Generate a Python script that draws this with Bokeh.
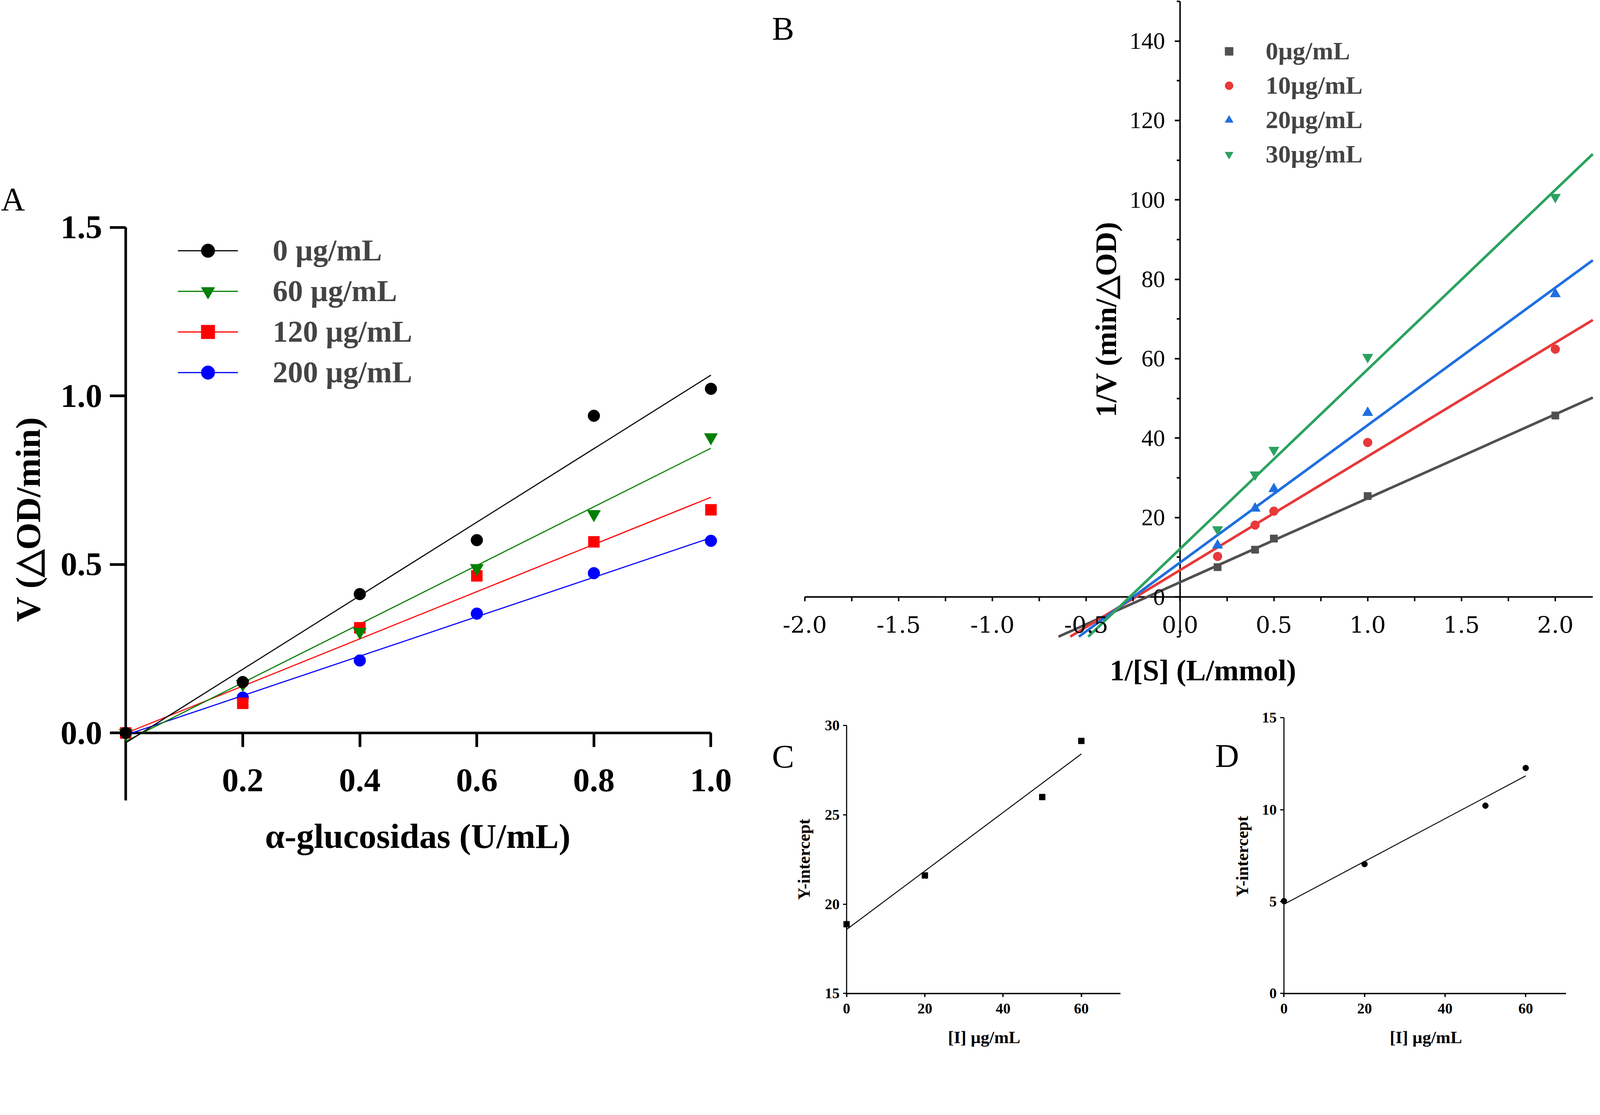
import math
import numpy as np
from bokeh.plotting import figure
from bokeh.models import (Range1d, FixedTicker, NumeralTickFormatter, Arrow,
                          Label, Legend, LegendItem)
from bokeh.layouts import row, column
from bokeh.embed import file_html
from bokeh.resources import INLINE

SERIF = "Liberation Serif"
# the page is photographed scaled: CSS px per reference-picture px
S = 4096 / 4328


def R(v):
    return v * S


def RI(v):
    return int(round(v * S))


def FS(v):
    return f"{v * S:.1f}px"


# ---------------- data ----------------
# Panel A : V vs alpha-glucosidase concentration
a_x = [0.0, 0.2, 0.4, 0.6, 0.8, 1.0]
a_series = ["0 µg/mL", "60 µg/mL", "120 µg/mL", "200 µg/mL"]
a_v_0 = [0.0, 0.151, 0.412, 0.572, 0.941, 1.021]
a_v_60 = [0.0, 0.145, 0.300, 0.489, 0.649, 0.877]
a_v_120 = [0.0, 0.088, 0.312, 0.466, 0.567, 0.662]
a_v_200 = [0.0, 0.105, 0.215, 0.354, 0.474, 0.570]
a_xticks = [0.2, 0.4, 0.6, 0.8, 1.0]
a_yticks = [0.0, 0.5, 1.0, 1.5]
a_ylim = (-0.2, 1.5)

# Panel B : Lineweaver-Burk
b_x = [0.2, 0.4, 0.5, 1.0, 2.0]
b_series = ["0µg/mL", "10µg/mL", "20µg/mL", "30µg/mL"]
b_v_0 = [7.5, 11.9, 14.7, 25.4, 45.7]
b_v_10 = [10.2, 18.1, 21.6, 38.9, 62.4]
b_v_20 = [13.0, 22.3, 27.2, 46.4, 76.3]
b_v_30 = [17.0, 30.8, 37.0, 60.4, 100.7]
b_xticks = [-2.0, -1.5, -1.0, -0.5, 0.0, 0.5, 1.0, 1.5, 2.0]
b_yticks = [0, 20, 40, 60, 80, 100, 120, 140]
b_xlim = (-2.0, 2.2)
b_ylim = (-10, 150)

# Panels C / D : secondary plots of the intercepts
c_x = [0, 20, 50, 60]
c_y = [18.88, 21.61, 26.0, 29.14]
d_x = [0, 20, 50, 60]
d_y = [5.03, 7.04, 10.22, 12.27]
cd_xticks = [0, 20, 40, 60]
cd_xmax = 70
c_yticks = [15, 20, 25, 30]
d_yticks = [0, 5, 10, 15]


# ---------------- helpers ----------------
def inv(p_css, m):
    v0, p0, v1, p1 = m
    return v0 + (p_css / S - p0) * (v1 - v0) / (p1 - p0)


def panel(origin, size, xmap, ymap):
    """figure whose frame fills the whole canvas; xmap/ymap map data -> reference px"""
    ox, oy = origin
    W, H = size
    l, t, r, b = ox, oy, ox + W, oy + H
    xr = (inv(l, xmap), inv(r, xmap))
    yr = (inv(b, ymap), inv(t, ymap))
    p = figure(width=W, height=H, x_range=Range1d(*xr), y_range=Range1d(*yr),
               output_backend="svg", toolbar_location=None,
               min_border_left=0, min_border_right=0, min_border_top=0, min_border_bottom=0)
    p.outline_line_color = None
    p.xgrid.visible = False
    p.ygrid.visible = False
    p.background_fill_color = "white"
    p.border_fill_color = "white"
    return p, (l, t, r, b), xr, yr


def style_axis(ax, lw, lab_size, lab_font=SERIF, lab_style="bold"):
    ax.major_tick_line_color = "black"
    ax.major_tick_line_width = lw
    ax.minor_tick_line_color = "black"
    ax.minor_tick_line_width = lw
    ax.major_label_text_font = lab_font
    ax.major_label_text_font_size = lab_size
    ax.major_label_text_font_style = lab_style
    ax.major_label_text_color = "black"


def shift_axis(ax, off, tick_len, gap, minor_len=None):
    """axis sits at the frame edge; its ticks are moved `off` px inwards onto the axis line"""
    ax.axis_line_color = None
    ax.major_tick_in = off
    ax.major_tick_out = tick_len - off
    ax.minor_tick_in = off
    ax.minor_tick_out = (tick_len if minor_len is None else minor_len) - off
    ax.major_label_standoff = gap


def ticker(ticks, minor=None):
    # minor ticks default to the major positions (drawn identically underneath them)
    return FixedTicker(ticks=ticks, minor_ticks=list(ticks) if minor is None else minor)


def to_data(ref_x, ref_y, frame, xr, yr):
    l, t, r, b = frame
    px, py = R(ref_x), R(ref_y)
    x = xr[0] + (px - l) / (r - l) * (xr[1] - xr[0])
    y = yr[0] + (b - py) / (b - t) * (yr[1] - yr[0])
    return x, y


def text_at(p, text, ref_x, ref_y, frame, xr, yr, size, style="normal", angle=0.0):
    x, y = to_data(ref_x, ref_y, frame, xr, yr)
    p.add_layout(Label(x=x, y=y, text=text, angle=angle, text_align="center", text_baseline="middle",
                       text_font=SERIF, text_font_size=FS(size), text_font_style=style,
                       text_color="black"))


def axis_line(p, x0, y0, x1, y1, lw):
    p.add_layout(Arrow(end=None, x_start=x0, y_start=y0, x_end=x1, y_end=y1,
                       line_color="black", line_width=lw, level="underlay"))


def px_offset(v, rng, size):
    return round((v - rng[0]) / (rng[1] - rng[0]) * size)


# ---------------- Panel A ----------------
pa, fa, A_xr, A_yr = panel((8, 8), (1961, 2300), (0.0, 348, 1.0, 1931), (0.0, 1991, 1.5, 623))
la, ta, ra, ba = fa
xa, ya = pa.xaxis[0], pa.yaxis[0]
style_axis(xa, R(7), FS(90))
style_axis(ya, R(7), FS(90))
xa.ticker = ticker(a_xticks)
ya.ticker = ticker(a_yticks)
xa.formatter = NumeralTickFormatter(format="0.0")
ya.formatter = NumeralTickFormatter(format="0.0")
shift_axis(ya, px_offset(0, A_xr, ra - la), RI(42), RI(21))
shift_axis(xa, px_offset(0, A_yr, ba - ta), RI(38), RI(60))
axis_line(pa, 0, a_ylim[0], 0, a_ylim[1], R(7))
axis_line(pa, 0, 0, a_xticks[-1], 0, R(7))

a_vals = [a_v_0, a_v_60, a_v_120, a_v_200]
a_colors = ["#000000", "#008000", "#ff0000", "#0000ff"]
a_markers = ["circle", "inverted_triangle", "square", "circle"]
a_sizes = [32, 36, 30, 32]
a_lines, a_marks = {}, {}
for i in reversed(range(4)):
    k, c = np.polyfit(a_x, a_vals[i], 1)
    xs = [a_x[0], a_x[-1]]
    a_lines[i] = pa.line(xs, [float(k * x + c) for x in xs], line_color=a_colors[i], line_width=R(3))
for i in reversed(range(4)):
    a_marks[i] = pa.scatter(a_x, a_vals[i], marker=a_markers[i], size=R(a_sizes[i]),
                            fill_color=a_colors[i], line_color=a_colors[i])
gh, sp = RI(92), RI(16)
legA = Legend(items=[LegendItem(label=a_series[i], renderers=[a_lines[i], a_marks[i]]) for i in range(4)],
              location=(RI(489) - la, ba - RI(648) - (4 * gh + 3 * sp)), orientation="vertical",
              glyph_width=RI(163), glyph_height=gh, label_height=gh, spacing=sp,
              padding=0, margin=0, label_standoff=RI(94),
              border_line_color=None, background_fill_alpha=0,
              label_text_font=SERIF, label_text_font_style="bold", label_text_font_size=FS(82))
pa.add_layout(legA)
text_at(pa, "V (△OD/min)", 83, 1413, fa, A_xr, A_yr, 95, "bold", math.pi / 2)
text_at(pa, "α-glucosidas (U/mL)", 1138, 2270, fa, A_xr, A_yr, 95, "bold")
text_at(pa, "A", 43, 547, fa, A_xr, A_yr, 90)

# ---------------- Panel B ----------------
pb, fb, B_xr, B_yr = panel((1969, 8), (2119, 1781), (-2.0, 2185, 2.0, 4215), (0.0, 1623, 140.0, 119))
lb, tb, rb, bb = fb
xb, yb = pb.xaxis[0], pb.yaxis[0]
style_axis(xb, R(4), FS(62), lab_font="DejaVu Serif", lab_style="normal")
style_axis(yb, R(4), FS(64), lab_font=SERIF, lab_style="normal")
xb.ticker = ticker(b_xticks, [t + 0.25 for t in b_xticks])
yb.ticker = ticker(b_yticks, [t - 10 for t in b_yticks] + [b_yticks[-1] + 10])
xb.formatter = NumeralTickFormatter(format="0.0")
shift_axis(yb, px_offset(0, B_xr, rb - lb), RI(14), RI(26), RI(8))
shift_axis(xb, px_offset(0, B_yr, bb - tb), RI(12), RI(39), RI(12))
axis_line(pb, 0, b_ylim[0], 0, b_ylim[1], R(4))
axis_line(pb, b_xlim[0], 0, b_xlim[1], 0, R(4))

b_vals = [b_v_0, b_v_10, b_v_20, b_v_30]
b_colors = ["#505050", "#e8393a", "#1f6fe0", "#2ca25f"]
b_markers = ["square", "circle", "triangle", "inverted_triangle"]
b_sizes = [20, 24, 28, 28]
b_marks = {}
for i in range(4):
    k, c = np.polyfit(b_x, b_vals[i], 1)
    xs = [(b_ylim[0] - c) / k, b_xlim[1]]          # fitted line, cut at the bottom of the y axis
    pb.line(xs, [float(k * x + c) for x in xs], line_color=b_colors[i], line_width=R(7))
for i in range(4):
    b_marks[i] = pb.scatter(b_x, b_vals[i], marker=b_markers[i], size=R(b_sizes[i]),
                            fill_color=b_colors[i], line_color=b_colors[i])
ghb = RI(93)
legB = Legend(items=[LegendItem(label=b_series[i], renderers=[b_marks[i]]) for i in range(4)],
              location=(RI(3305) - lb, bb - RI(100) - 4 * ghb), orientation="vertical",
              glyph_width=RI(55), glyph_height=ghb, label_height=ghb, spacing=0,
              padding=0, margin=0, label_standoff=RI(72),
              border_line_color=None, background_fill_alpha=0,
              label_text_font=SERIF, label_text_font_style="bold", label_text_font_size=FS(68))
pb.add_layout(legB)
text_at(pb, "1/V (min/△OD)", 3000, 872, fb, B_xr, B_yr, 80, "bold", math.pi / 2)
text_at(pb, "1/[S] (L/mmol)", 3262, 1822, fb, B_xr, B_yr, 80, "bold")
text_at(pb, "B", 2126, 85, fb, B_xr, B_yr, 90)


# ---------------- Panels C and D ----------------
def small_panel(origin, size, xmap, ymap, xs, ys, yticks, marker, name, pos):
    p, f, xr, yr = panel(origin, size, xmap, ymap)
    l, t, r, b = f
    xax, yax = p.xaxis[0], p.yaxis[0]
    style_axis(xax, R(3.5), FS(40))
    style_axis(yax, R(3), FS(40))
    xax.ticker = ticker(cd_xticks)
    yax.ticker = ticker(yticks)
    shift_axis(yax, px_offset(0, xr, r - l), RI(10), RI(9))
    shift_axis(xax, px_offset(yticks[0], yr, b - t), RI(10), RI(18))
    axis_line(p, 0, yticks[0], 0, yticks[-1], R(3))
    axis_line(p, 0, yticks[0], cd_xmax, yticks[0], R(3.5))
    k, c = np.polyfit(xs, ys, 1)
    lx = [xs[0], xs[-1]]
    p.line(lx, [float(k * x + c) for x in lx], line_color="black", line_width=R(2.5))
    p.scatter(xs, ys, marker=marker, size=R(16), fill_color="black", line_color="black")
    text_at(p, "Y-intercept", pos["ytitle"][0], pos["ytitle"][1], f, xr, yr, 46, "bold", math.pi / 2)
    text_at(p, "[I] µg/mL", pos["xtitle"][0], pos["xtitle"][1], f, xr, yr, 47, "bold")
    text_at(p, name, pos["letter"][0], pos["letter"][1], f, xr, yr, 90)
    return p


pc = small_panel((1969, 1789), (1059, 905), (0, 2298, 60, 2933), (15, 2696, 30, 1971),
                 c_x, c_y, c_yticks, "square", "C",
                 {"ytitle": (2182, 2333), "xtitle": (2670, 2814), "letter": (2126, 2055)})
pd = small_panel((3028, 1789), (1060, 905), (0, 3481, 60, 4135), (0, 2696, 15, 1950),
                 d_x, d_y, d_yticks, "circle", "D",
                 {"ytitle": (3368, 2325), "xtitle": (3865, 2814), "letter": (3327, 2052)})

layout = row(pa, column(pb, row(pc, pd)))
open("out.html", "w").write(file_html(layout, INLINE, "Enzyme kinetics"))
